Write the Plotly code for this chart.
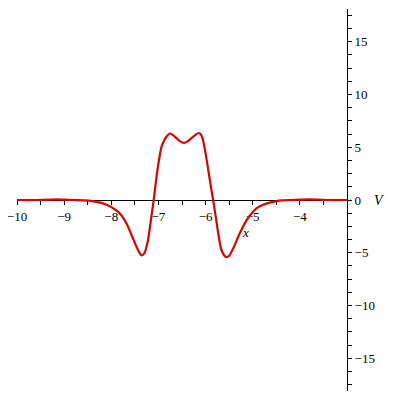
import plotly.graph_objects as go

# Data
x_vals = [-10.0, -9.6, -9.3, -9.15, -9.0, -8.8, -8.56, -8.4, -8.24, -8.1, -7.99, -7.82, -7.68,
          -7.54, -7.43, -7.36, -7.30, -7.23, -7.15, -7.10, -7.04, -6.98, -6.93, -6.87, -6.83,
          -6.76, -6.69, -6.62, -6.54, -6.46, -6.38, -6.30, -6.22, -6.14, -6.09, -6.05, -5.98,
          -5.91, -5.84, -5.78, -5.73, -5.66, -5.57, -5.50, -5.45, -5.38, -5.31, -5.22, -5.13,
          -5.02, -4.92, -4.78, -4.64, -4.5, -4.39, -4.2, -4.0, -3.8, -3.6, -3.4, -3.0]
V_vals = [0.0, 0.0, 0.03, 0.05, 0.03, 0.0, -0.03, -0.1, -0.25, -0.45, -0.70, -1.27, -2.2,
          -3.65, -4.76, -5.24, -5.05, -4.0, -1.6, 0.0, 2.2, 4.0, 5.1, 5.7, 6.0,
          6.3, 6.15, 5.87, 5.55, 5.4, 5.55, 5.87, 6.15, 6.35, 6.15, 5.6, 3.9,
          1.9, 0.0, -1.7, -3.2, -4.76, -5.4, -5.3, -4.9, -4.25, -3.5, -2.65, -1.9,
          -1.25, -0.8, -0.45, -0.25, -0.1, -0.03, 0.0, 0.03, 0.05, 0.03, 0.0, 0.0]

x_ticks = [-10, -9, -8, -7, -6, -5, -4]
y_ticks = [-15, -10, -5, 0, 5, 10, 15]

fig = go.Figure()
fig.add_trace(go.Scatter(x=x_vals, y=V_vals, mode="lines",
                         line=dict(color="#e00000", width=2.2, shape="spline", smoothing=0.8),
                         hoverinfo="skip"))

axis_font = dict(family="Liberation Serif", size=13, color="black")

# page body has an 8px default margin, so margins are shifted by 8px
fig.update_layout(
    width=400, height=400,
    margin=dict(l=9, r=61, t=1, b=17, autoexpand=False),
    paper_bgcolor="white", plot_bgcolor="white",
    showlegend=False,
    xaxis=dict(range=[-10, -3], anchor="free", position=0.5, automargin=False,
               ticklabeloverflow="allow", layer="below traces",
               showline=True, linecolor="black", linewidth=1,
               ticks="outside", ticklen=4, tickcolor="black", tickwidth=1,
               tickvals=x_ticks, ticktext=["\u2212" + str(abs(v)) for v in x_ticks],
               tickfont=axis_font, showgrid=False, zeroline=False,
               minor=dict(dtick=0.5, tick0=-10, ticks="outside", ticklen=4,
                          tickcolor="black", showgrid=False)),
    yaxis=dict(range=[-18.1, 18.1], side="right", anchor="x", automargin=False,
               ticklabeloverflow="allow", layer="below traces",
               showline=True, linecolor="black", linewidth=1,
               ticks="outside", ticklen=4, tickcolor="black", tickwidth=1,
               tickvals=y_ticks,
               ticktext=[("\u2212" + str(abs(v))) if v < 0 else str(v) for v in y_ticks],
               tickfont=axis_font, showgrid=False, zeroline=False,
               minor=dict(dtick=1.25, tick0=0, ticks="outside", ticklen=4,
                          tickcolor="black", showgrid=False)),
    annotations=[
        dict(text="<i>V</i>", x=1.118, y=0.5, xref="paper", yref="paper",
             showarrow=False, font=dict(family="Liberation Serif", size=14, color="black")),
        dict(text="<i>x</i>", x=0.709, y=0.416, xref="paper", yref="paper",
             showarrow=False, font=dict(family="Liberation Serif", size=13, color="black")),
    ],
)

fig.write_html("out.html")
